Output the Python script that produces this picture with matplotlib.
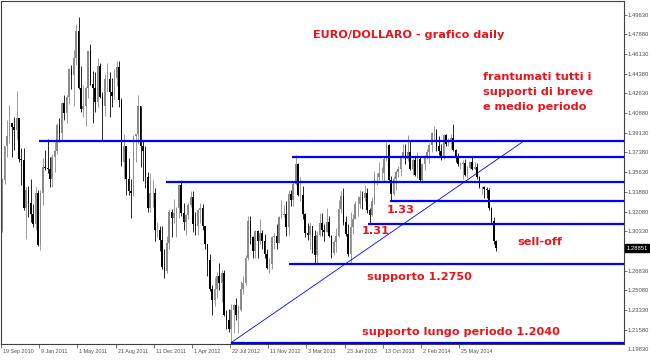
import matplotlib
matplotlib.use("Agg")
import matplotlib.pyplot as plt
import matplotlib.transforms as mtransforms
import numpy as np

# EUR/USD weekly candles, week of 20 Sep 2010 .. week of 8 Sep 2014
opens = [
    # 2010
    1.3050, 1.3490, 1.3790, 1.3880, 1.4000, 1.3960, 1.3940, 1.4040, 1.3680, 1.3670, 1.3240, 1.3400, 1.3290, 1.3190, 1.3100,
    # 2011
    1.3380, 1.2910, 1.3380, 1.3610, 1.3600, 1.3590, 1.3500, 1.3700, 1.3750, 1.3980, 1.3910, 1.4180, 1.4090,
    1.4230, 1.4480, 1.4430, 1.4580, 1.4820, 1.4310, 1.4120, 1.4150, 1.4310, 1.4640, 1.4350, 1.4310, 1.4190,
    1.4510, 1.4230, 1.4150, 1.4390, 1.4390, 1.4280, 1.4240, 1.4400, 1.4500, 1.4200, 1.3650, 1.3790, 1.3500,
    1.3390, 1.3380, 1.3880, 1.3900, 1.4150, 1.3790, 1.3750, 1.3520, 1.3240, 1.3380, 1.3380, 1.3050, 1.3050,
    # 2012
    1.2960, 1.2720, 1.2680, 1.2930, 1.3210, 1.3150, 1.3200, 1.3240, 1.3450, 1.3200, 1.3120, 1.3180, 1.3270,
    1.3340, 1.3100, 1.3080, 1.3220, 1.3240, 1.3080, 1.2920, 1.2780, 1.2520, 1.2420, 1.2520, 1.2640, 1.2570,
    1.2660, 1.2290, 1.2240, 1.2160, 1.2330, 1.2380, 1.2290, 1.2330, 1.2520, 1.2570, 1.2800, 1.3130, 1.2980,
    1.2860, 1.3040, 1.2950, 1.3020, 1.2950, 1.2830, 1.2710, 1.2740, 1.2980, 1.2990, 1.2930, 1.3160, 1.3180, 1.3190,
    # 2013
    1.3070, 1.3370, 1.3310, 1.3460, 1.3630, 1.3360, 1.3360, 1.3190, 1.3020, 1.3000, 1.3080, 1.2990, 1.2820,
    1.3000, 1.3110, 1.3050, 1.3030, 1.3120, 1.2990, 1.2840, 1.2940, 1.2990, 1.3230, 1.3350, 1.3120, 1.3010,
    1.2830, 1.3070, 1.3140, 1.3280, 1.3280, 1.3340, 1.3330, 1.3380, 1.3220, 1.3180, 1.3300, 1.3520, 1.3520,
    1.3550, 1.3550, 1.3680, 1.3800, 1.3490, 1.3370, 1.3500, 1.3560, 1.3590, 1.3700, 1.3740, 1.3680, 1.3740,
    # 2014
    1.3590, 1.3670, 1.3540, 1.3680, 1.3490, 1.3630, 1.3690, 1.3740, 1.3800, 1.3910, 1.3910, 1.3790, 1.3750,
    1.3700, 1.3890, 1.3810, 1.3830, 1.3870, 1.3760, 1.3700, 1.3630, 1.3630, 1.3640, 1.3540, 1.3600, 1.3650,
    1.3590, 1.3610, 1.3520, 1.3430, 1.3430, 1.3410, 1.3400, 1.3240, 1.3130, 1.2950,
]
highs = [
    1.3510, 1.3790, 1.4030, 1.4160, 1.4000, 1.4050, 1.4282, 1.4040, 1.3780, 1.3780, 1.3430, 1.3440, 1.3500, 1.3280, 1.3430,
    1.3400, 1.3400, 1.3690, 1.3760, 1.3860, 1.3700, 1.3720, 1.3830, 1.4000, 1.4040, 1.4190, 1.4250, 1.4250,
    1.4490, 1.4520, 1.4650, 1.4880, 1.4940, 1.4510, 1.4340, 1.4330, 1.4640, 1.4700, 1.4460, 1.4450, 1.4580,
    1.4530, 1.4280, 1.4440, 1.4530, 1.4450, 1.4400, 1.4480, 1.4550, 1.4550, 1.4220, 1.3900, 1.3790, 1.3690,
    1.3500, 1.3890, 1.3900, 1.4250, 1.4150, 1.3850, 1.3790, 1.3560, 1.3550, 1.3490, 1.3420, 1.3120, 1.3080,
    1.3080, 1.2880, 1.2990, 1.3230, 1.3230, 1.3320, 1.3250, 1.3460, 1.3490, 1.3290, 1.3190, 1.3290, 1.3390,
    1.3390, 1.3210, 1.3230, 1.3290, 1.3280, 1.3080, 1.2920, 1.2830, 1.2560, 1.2630, 1.2670, 1.2750, 1.2690,
    1.2690, 1.2330, 1.2340, 1.2390, 1.2390, 1.2440, 1.2380, 1.2590, 1.2640, 1.2820, 1.3170, 1.3170, 1.2990,
    1.3050, 1.3050, 1.3140, 1.3050, 1.3010, 1.2880, 1.2800, 1.2990, 1.3020, 1.3100, 1.3170, 1.3310, 1.3270, 1.3300,
    1.3400, 1.3400, 1.3480, 1.3710, 1.3640, 1.3520, 1.3440, 1.3200, 1.3110, 1.3120, 1.3080, 1.3050, 1.3040,
    1.3200, 1.3200, 1.3100, 1.3240, 1.3170, 1.3000, 1.2960, 1.3060, 1.3310, 1.3390, 1.3420, 1.3170, 1.3100,
    1.3210, 1.3190, 1.3300, 1.3350, 1.3400, 1.3390, 1.3450, 1.3420, 1.3240, 1.3340, 1.3570, 1.3550, 1.3650,
    1.3610, 1.3700, 1.3830, 1.3810, 1.3530, 1.3530, 1.3580, 1.3620, 1.3710, 1.3810, 1.3810, 1.3890, 1.3840,
    1.3690, 1.3700, 1.3740, 1.3700, 1.3640, 1.3710, 1.3770, 1.3820, 1.3920, 1.3970, 1.3950, 1.3880, 1.3810,
    1.3900, 1.3900, 1.3870, 1.3900, 1.3990, 1.3770, 1.3730, 1.3650, 1.3670, 1.3680, 1.3620, 1.3660, 1.3700,
    1.3650, 1.3640, 1.3530, 1.3440, 1.3440, 1.3430, 1.3420, 1.3250, 1.3160, 1.2960,
]
lows = [
    1.3030, 1.3460, 1.3700, 1.3820, 1.3700, 1.3760, 1.3860, 1.3650, 1.3450, 1.3220, 1.2969, 1.3160, 1.3120, 1.3070, 1.3050,
    1.2900, 1.2870, 1.3270, 1.3580, 1.3550, 1.3430, 1.3430, 1.3560, 1.3720, 1.3830, 1.3850, 1.4030, 1.4000,
    1.4170, 1.4300, 1.4150, 1.4520, 1.4300, 1.4100, 1.4050, 1.3970, 1.4220, 1.4340, 1.4000, 1.4100, 1.4140,
    1.4220, 1.3840, 1.4060, 1.4280, 1.4050, 1.4140, 1.4210, 1.4330, 1.4140, 1.3620, 1.3500, 1.3360, 1.3360,
    1.3150, 1.3350, 1.3650, 1.3810, 1.3610, 1.3480, 1.3420, 1.3210, 1.3210, 1.3250, 1.2950, 1.2980, 1.2860,
    1.2700, 1.2620, 1.2660, 1.2880, 1.2980, 1.3110, 1.2980, 1.3150, 1.3170, 1.3050, 1.3000, 1.3140, 1.3250,
    1.3030, 1.3000, 1.3000, 1.3110, 1.3050, 1.2880, 1.2640, 1.2500, 1.2290, 1.2370, 1.2440, 1.2510, 1.2400,
    1.2280, 1.2160, 1.2140, 1.2042, 1.2130, 1.2240, 1.2130, 1.2320, 1.2480, 1.2560, 1.2780, 1.2920, 1.2800,
    1.2800, 1.2800, 1.2920, 1.2880, 1.2800, 1.2700, 1.2660, 1.2700, 1.2880, 1.2880, 1.2930, 1.3150, 1.3160, 1.2990,
    1.3000, 1.3260, 1.3260, 1.3450, 1.3350, 1.3300, 1.3140, 1.2980, 1.2960, 1.2880, 1.2840, 1.2750, 1.2750,
    1.2990, 1.2990, 1.2950, 1.3030, 1.2980, 1.2800, 1.2820, 1.2850, 1.2980, 1.3200, 1.3090, 1.2990, 1.2810,
    1.2755, 1.3010, 1.3140, 1.3170, 1.3240, 1.3230, 1.3300, 1.3200, 1.3100, 1.3170, 1.3280, 1.3450, 1.3490,
    1.3490, 1.3480, 1.3660, 1.3480, 1.3300, 1.3360, 1.3400, 1.3520, 1.3530, 1.3690, 1.3630, 1.3660, 1.3580,
    1.3540, 1.3530, 1.3510, 1.3480, 1.3470, 1.3580, 1.3680, 1.3640, 1.3740, 1.3850, 1.3750, 1.3710, 1.3670,
    1.3680, 1.3790, 1.3790, 1.3770, 1.3750, 1.3650, 1.3620, 1.3590, 1.3500, 1.3530, 1.3510, 1.3590, 1.3580,
    1.3580, 1.3500, 1.3420, 1.3370, 1.3330, 1.3330, 1.3220, 1.3110, 1.2920, 1.2860,
]
closes = [
    1.3490, 1.3790, 1.3880, 1.4000, 1.3960, 1.3940, 1.4040, 1.3680, 1.3670, 1.3240, 1.3400, 1.3290, 1.3190, 1.3100, 1.3380,
    1.2910, 1.3380, 1.3610, 1.3600, 1.3590, 1.3500, 1.3700, 1.3750, 1.3980, 1.3910, 1.4180, 1.4090, 1.4230,
    1.4480, 1.4430, 1.4580, 1.4820, 1.4310, 1.4120, 1.4150, 1.4310, 1.4640, 1.4350, 1.4310, 1.4190, 1.4510,
    1.4230, 1.4150, 1.4390, 1.4390, 1.4280, 1.4240, 1.4400, 1.4500, 1.4200, 1.3650, 1.3790, 1.3500, 1.3390,
    1.3380, 1.3880, 1.3900, 1.4150, 1.3790, 1.3750, 1.3520, 1.3240, 1.3380, 1.3380, 1.3050, 1.3050, 1.2960,
    1.2720, 1.2680, 1.2930, 1.3210, 1.3150, 1.3200, 1.3240, 1.3450, 1.3200, 1.3120, 1.3180, 1.3270, 1.3340,
    1.3100, 1.3080, 1.3220, 1.3240, 1.3080, 1.2920, 1.2780, 1.2520, 1.2420, 1.2520, 1.2640, 1.2570, 1.2660,
    1.2290, 1.2240, 1.2160, 1.2330, 1.2380, 1.2290, 1.2330, 1.2520, 1.2570, 1.2800, 1.3130, 1.2980, 1.2860,
    1.3040, 1.2950, 1.3020, 1.2950, 1.2830, 1.2710, 1.2740, 1.2980, 1.2990, 1.2930, 1.3160, 1.3180, 1.3190, 1.3070,
    1.3370, 1.3310, 1.3460, 1.3630, 1.3360, 1.3360, 1.3190, 1.3020, 1.3000, 1.3080, 1.2990, 1.2820, 1.3000,
    1.3110, 1.3050, 1.3030, 1.3120, 1.2990, 1.2840, 1.2940, 1.2990, 1.3230, 1.3350, 1.3120, 1.3010, 1.2830,
    1.3070, 1.3140, 1.3280, 1.3280, 1.3340, 1.3330, 1.3380, 1.3220, 1.3180, 1.3300, 1.3520, 1.3520, 1.3550,
    1.3550, 1.3680, 1.3800, 1.3490, 1.3370, 1.3500, 1.3560, 1.3590, 1.3700, 1.3740, 1.3680, 1.3740, 1.3590,
    1.3670, 1.3540, 1.3680, 1.3490, 1.3630, 1.3690, 1.3740, 1.3800, 1.3910, 1.3910, 1.3790, 1.3750, 1.3700,
    1.3890, 1.3810, 1.3830, 1.3870, 1.3760, 1.3700, 1.3630, 1.3630, 1.3640, 1.3540, 1.3600, 1.3650, 1.3590,
    1.3610, 1.3520, 1.3430, 1.3430, 1.3410, 1.3400, 1.3240, 1.3130, 1.2950, 1.28851,
]

# x axis: one label every 16 weeks, week 0 = 19 Sep 2010
date_weeks = [0, 16, 32, 48, 64, 80, 96, 112, 128, 144, 160, 176, 192]
date_labels = ["19 Sep 2010", "9 Jan 2011", "1 May 2011", "21 Aug 2011", "11 Dec 2011", "1 Apr 2012",
               "22 Jul 2012", "11 Nov 2012", "3 Mar 2013", "23 Jun 2013", "13 Oct 2013", "2 Feb 2014",
               "25 May 2014"]

# price scale (1.28580 sits under the current-price tag in the original)
price_labels = ["1.19830", "1.21580", "1.23330", "1.25080", "1.26830", "1.28580", "1.30330", "1.32080",
                "1.33880", "1.35630", "1.37380", "1.39130", "1.40880", "1.42630", "1.44380", "1.46130",
                "1.47880", "1.49630"]
price_ticks = [float(s) for s in price_labels]

# support / resistance lines: level and week where the line starts
levels = [1.3840, 1.3700, 1.3475, 1.3300, 1.3100, 1.2740, 1.2042]
level_start = [15.9, 122.0, 69.2, 163.1, 153.8, 120.7, 96.4]
trend_weeks = [96.4, 219.2]
trend_prices = [1.2042, 1.3840]

RED = "#e8141c"
BLUE = "#0000ff"
AXFONT = "Liberation Sans"
AXSIZE = 4.2

fig = plt.figure(figsize=(6.5, 3.62), dpi=100)
ax = fig.add_axes([1 / 650, 18 / 362, 623 / 650, 343 / 362])
x_max = 261.1
ax.set_xlim(0, x_max)
ax.set_ylim(1.20302, 1.50864)

# candles
o = np.array(opens)
h = np.array(highs)
l = np.array(lows)
c = np.array(closes)
xs = np.arange(len(c)) + 0.5
cols = np.where(c >= o, "#8a8a8a", "#000000")
ax.vlines(xs, l, h, colors=cols, linewidth=0.6, zorder=2)
ax.bar(xs, np.abs(c - o), bottom=np.minimum(o, c), width=0.7, color=cols, linewidth=0, zorder=2)

# horizontal levels
for lev, start in zip(levels, level_start):
    ax.plot([start, x_max], [lev, lev], color=BLUE, linewidth=1.6, solid_capstyle="butt", zorder=3)
ax.plot(trend_weeks, trend_prices, color=BLUE, linewidth=0.6, zorder=3)

# annotations
txt = dict(color=RED, fontsize=8.1, fontweight="bold", va="center")
ax.text(130.8, 1.4783, "EURO/DOLLARO - grafico daily", **txt)
for i, line in enumerate(["frantumati tutti i", "supporti di breve", "e medio periodo"]):
    ax.text(202.0, 1.4412 - i * 0.0134, line, **txt)
ax.text(161.7, 1.3224, "1.33", **txt)
ax.text(151.2, 1.3037, "1.31", **txt)
ax.text(216.3, 1.2939, "sell-off", **txt)
ax.text(153.4, 1.2627, "supporto 1.2750", **txt)
ax.text(151.3, 1.2137, "supporto lungo periodo 1.2040", **txt)

# axes styling
for s in ax.spines.values():
    s.set_color("#404040")
    s.set_linewidth(0.8)
ax.yaxis.tick_right()
ax.set_yticks(price_ticks[1:])
shown = [("" if s == "1.28580" else s) for s in price_labels[1:]]
ax.set_yticklabels(shown, fontfamily=AXFONT)
ax.tick_params(axis="y", direction="out", length=2, width=0.6, color="#606060",
               labelsize=AXSIZE, labelcolor="#505050", pad=0.6)
ax.set_xticks(date_weeks)
ax.set_xticklabels(date_labels, fontfamily=AXFONT)
ax.tick_params(axis="x", direction="out", length=3, width=0.6, color="#606060",
               labelsize=3.9, labelcolor="#505050", pad=0.5)
shift = mtransforms.ScaledTranslation(2 / 100, 0, fig.dpi_scale_trans)
for lbl in ax.get_xticklabels():
    lbl.set_ha("left")
    lbl.set_transform(lbl.get_transform() + shift)

# label below the frame and the current price tag
ytrans = mtransforms.blended_transform_factory(ax.transAxes, ax.transData)
ax.text(1.0 + 3.5 / 623, price_ticks[0], price_labels[0], transform=ytrans, fontsize=AXSIZE, color="#505050",
        fontfamily=AXFONT, va="center", ha="left", clip_on=False)
ax.text(1.0 + 2.5 / 623, closes[-1], f"{closes[-1]:.5f}", transform=ytrans, fontsize=AXSIZE, color="white",
        fontfamily=AXFONT, va="center", ha="left", clip_on=False, zorder=10,
        bbox=dict(boxstyle="square,pad=0.2", facecolor="black", edgecolor="black"))

fig.savefig("out.png", dpi=100, facecolor="white")
